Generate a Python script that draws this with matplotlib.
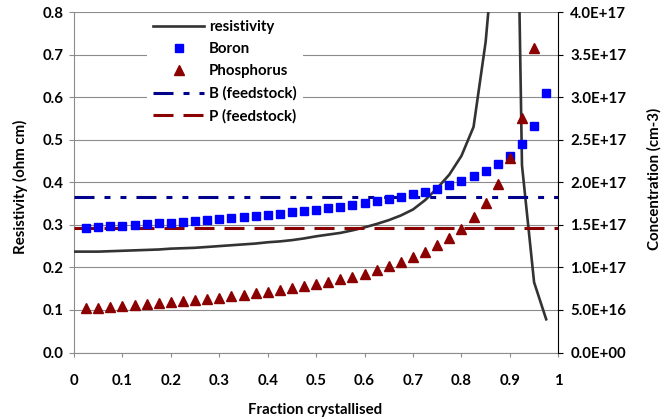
import matplotlib
matplotlib.use("Agg")
import matplotlib.pyplot as plt
from matplotlib.ticker import MultipleLocator, FuncFormatter

plt.rcParams['font.family'] = ['Lato', 'DejaVu Sans']
plt.rcParams['font.weight'] = 'bold'
plt.rcParams['axes.labelweight'] = 'bold'
plt.rcParams['lines.scale_dashes'] = False

# ---- data ----
fraction_res = [0.0, 0.025, 0.05, 0.075, 0.1, 0.125, 0.15, 0.175, 0.2, 0.225,
                0.25, 0.275, 0.3, 0.325, 0.35, 0.375, 0.4, 0.425, 0.45, 0.475,
                0.5, 0.525, 0.55, 0.575, 0.6, 0.625, 0.65, 0.675, 0.7, 0.725,
                0.75, 0.775, 0.8, 0.825, 0.85, 0.875, 0.9, 0.925, 0.95, 0.975]
resistivity = [0.237, 0.237, 0.237, 0.238, 0.239, 0.240, 0.241, 0.242, 0.244, 0.245,
               0.246, 0.248, 0.250, 0.252, 0.254, 0.256, 0.259, 0.261, 0.264, 0.268,
               0.273, 0.277, 0.281, 0.287, 0.294, 0.302, 0.311, 0.322, 0.336, 0.358,
               0.386, 0.418, 0.462, 0.530, 0.730, 1.05, 2.2, 0.44, 0.165, 0.078]

fraction = [0.025, 0.05, 0.075, 0.1, 0.125, 0.15, 0.175, 0.2, 0.225, 0.25,
            0.275, 0.3, 0.325, 0.35, 0.375, 0.4, 0.425, 0.45, 0.475, 0.5,
            0.525, 0.55, 0.575, 0.6, 0.625, 0.65, 0.675, 0.7, 0.725, 0.75,
            0.775, 0.8, 0.825, 0.85, 0.875, 0.9, 0.925, 0.95, 0.975]
boron = [1.468e17, 1.475e17, 1.483e17, 1.491e17, 1.500e17, 1.508e17, 1.517e17, 1.527e17,
         1.536e17, 1.546e17, 1.557e17, 1.568e17, 1.580e17, 1.591e17, 1.604e17, 1.617e17,
         1.631e17, 1.646e17, 1.661e17, 1.677e17, 1.694e17, 1.713e17, 1.733e17, 1.754e17,
         1.776e17, 1.801e17, 1.828e17, 1.857e17, 1.890e17, 1.926e17, 1.967e17, 2.014e17,
         2.069e17, 2.134e17, 2.213e17, 2.314e17, 2.451e17, 2.658e17, 3.053e17]
phosphorus = [5.195e16, 5.283e16, 5.376e16, 5.472e16, 5.573e16, 5.679e16, 5.791e16, 5.908e16,
              6.031e16, 6.161e16, 6.298e16, 6.443e16, 6.597e16, 6.761e16, 6.936e16, 7.123e16,
              7.322e16, 7.537e16, 7.768e16, 8.018e16, 8.290e16, 8.587e16, 8.912e16, 9.270e16,
              9.667e16, 1.011e17, 1.061e17, 1.118e17, 1.183e17, 1.258e17, 1.347e17, 1.455e17,
              1.587e17, 1.754e17, 1.975e17, 2.283e17, 2.752e17, 3.582e17, 5.621e17]
feed_x = [0.0, 1.0]
b_feedstock = 1.825e17
p_feedstock = 1.46e17

labels = ['resistivity', 'Boron', 'Phosphorus', 'B (feedstock)', 'P (feedstock)']

# ---- figure ----
W, H = 665, 419
fig = plt.figure(figsize=(W / 100, H / 100), dpi=100)
left, right, top, bottom = 74, 558.3, 12, 352.5
ax = fig.add_axes([left / W, 1 - bottom / H, (right - left) / W, (bottom - top) / H])
ax2 = ax.twinx()

grid_c = '#8c8c8c'
ax.set_xlim(0, 1)
ax.set_ylim(0, 0.8)
ax2.set_ylim(0, 4e17)
ax.yaxis.set_major_locator(MultipleLocator(0.1))
ax.xaxis.set_major_locator(MultipleLocator(0.1))
ax2.yaxis.set_major_locator(MultipleLocator(5e16))
ax.yaxis.set_major_formatter(FuncFormatter(lambda v, p: f"{v:.1f}"))
ax.xaxis.set_major_formatter(FuncFormatter(lambda v, p: f"{round(v, 2):g}"))
ax2.yaxis.set_major_formatter(FuncFormatter(lambda v, p: f"{v:.1E}"))
ax.yaxis.grid(True, color=grid_c, linewidth=0.8)
ax.set_axisbelow(True)

for s in ['top', 'right']:
    ax.spines[s].set_visible(False)
for s in ['left', 'bottom']:
    ax.spines[s].set_color(grid_c)
    ax.spines[s].set_linewidth(0.8)
for s in ['top', 'left', 'bottom']:
    ax2.spines[s].set_visible(False)
ax2.spines['right'].set_color('black')
ax2.spines['right'].set_linewidth(0.8)

fs = 10.8
ax.tick_params(axis='y', direction='out', length=3.6, color=grid_c, width=0.8, pad=4.0, labelsize=fs)
ax.tick_params(axis='x', direction='out', length=3, color=grid_c, width=0.8, pad=12.5, labelsize=fs)
ax2.tick_params(axis='y', direction='out', length=3.6, color='black', width=0.8, pad=5, labelsize=fs)
for t in ax.get_xticklabels() + ax.get_yticklabels() + ax2.get_yticklabels():
    t.set_fontweight('bold')

l1, = ax.plot(fraction_res, resistivity, color='#333333', linewidth=1.9, label=labels[0], zorder=3)
l2, = ax2.plot(fraction, boron, linestyle='none', marker='s', markersize=5.4,
               color='#0000ff', label=labels[1], zorder=4)
l3, = ax2.plot(fraction, phosphorus, linestyle='none', marker='^', markersize=6.5,
               color='#8b0000', label=labels[2], zorder=4)
l4, = ax2.plot(feed_x, [b_feedstock] * 2, color='#00008b', linewidth=2.2,
               dashes=(14.4, 7.2, 4.3, 7.2, 4.3, 7.2), label=labels[3], zorder=2)
l5, = ax2.plot(feed_x, [p_feedstock] * 2, color='#8b0000', linewidth=2.2,
               dashes=(14.4, 7.2), label=labels[4], zorder=2)

ax.set_ylabel('Resistivity (ohm cm)', fontsize=fs, fontweight='bold')
ax.yaxis.set_label_coords(28.5 / W, 1 - 186.7 / H, transform=fig.transFigure)
ax2.set_ylabel('Concentration (cm-3)', fontsize=fs, fontweight='bold', rotation=90)
ax2.yaxis.set_label_coords(647 / W, 1 - 179 / H, transform=fig.transFigure)
fig.text(315 / W, 1 - 414 / H, 'Fraction crystallised', ha='center', va='baseline',
         fontsize=fs, fontweight='bold')

leg = ax2.legend(handles=[l1, l2, l3, l4, l5], loc='upper left',
                 bbox_to_anchor=(147 / W, 1 - 14 / H), bbox_transform=fig.transFigure,
                 borderaxespad=0, borderpad=0.4, handlelength=3.4, handletextpad=0.33,
                 labelspacing=0.54, numpoints=1, frameon=True, fancybox=False,
                 prop={'size': fs, 'weight': 'bold'})
leg.get_frame().set_facecolor('white')
leg.get_frame().set_edgecolor('none')
leg.get_frame().set_alpha(1)
leg.set_zorder(10)

fig.savefig('out.png', dpi=100)
